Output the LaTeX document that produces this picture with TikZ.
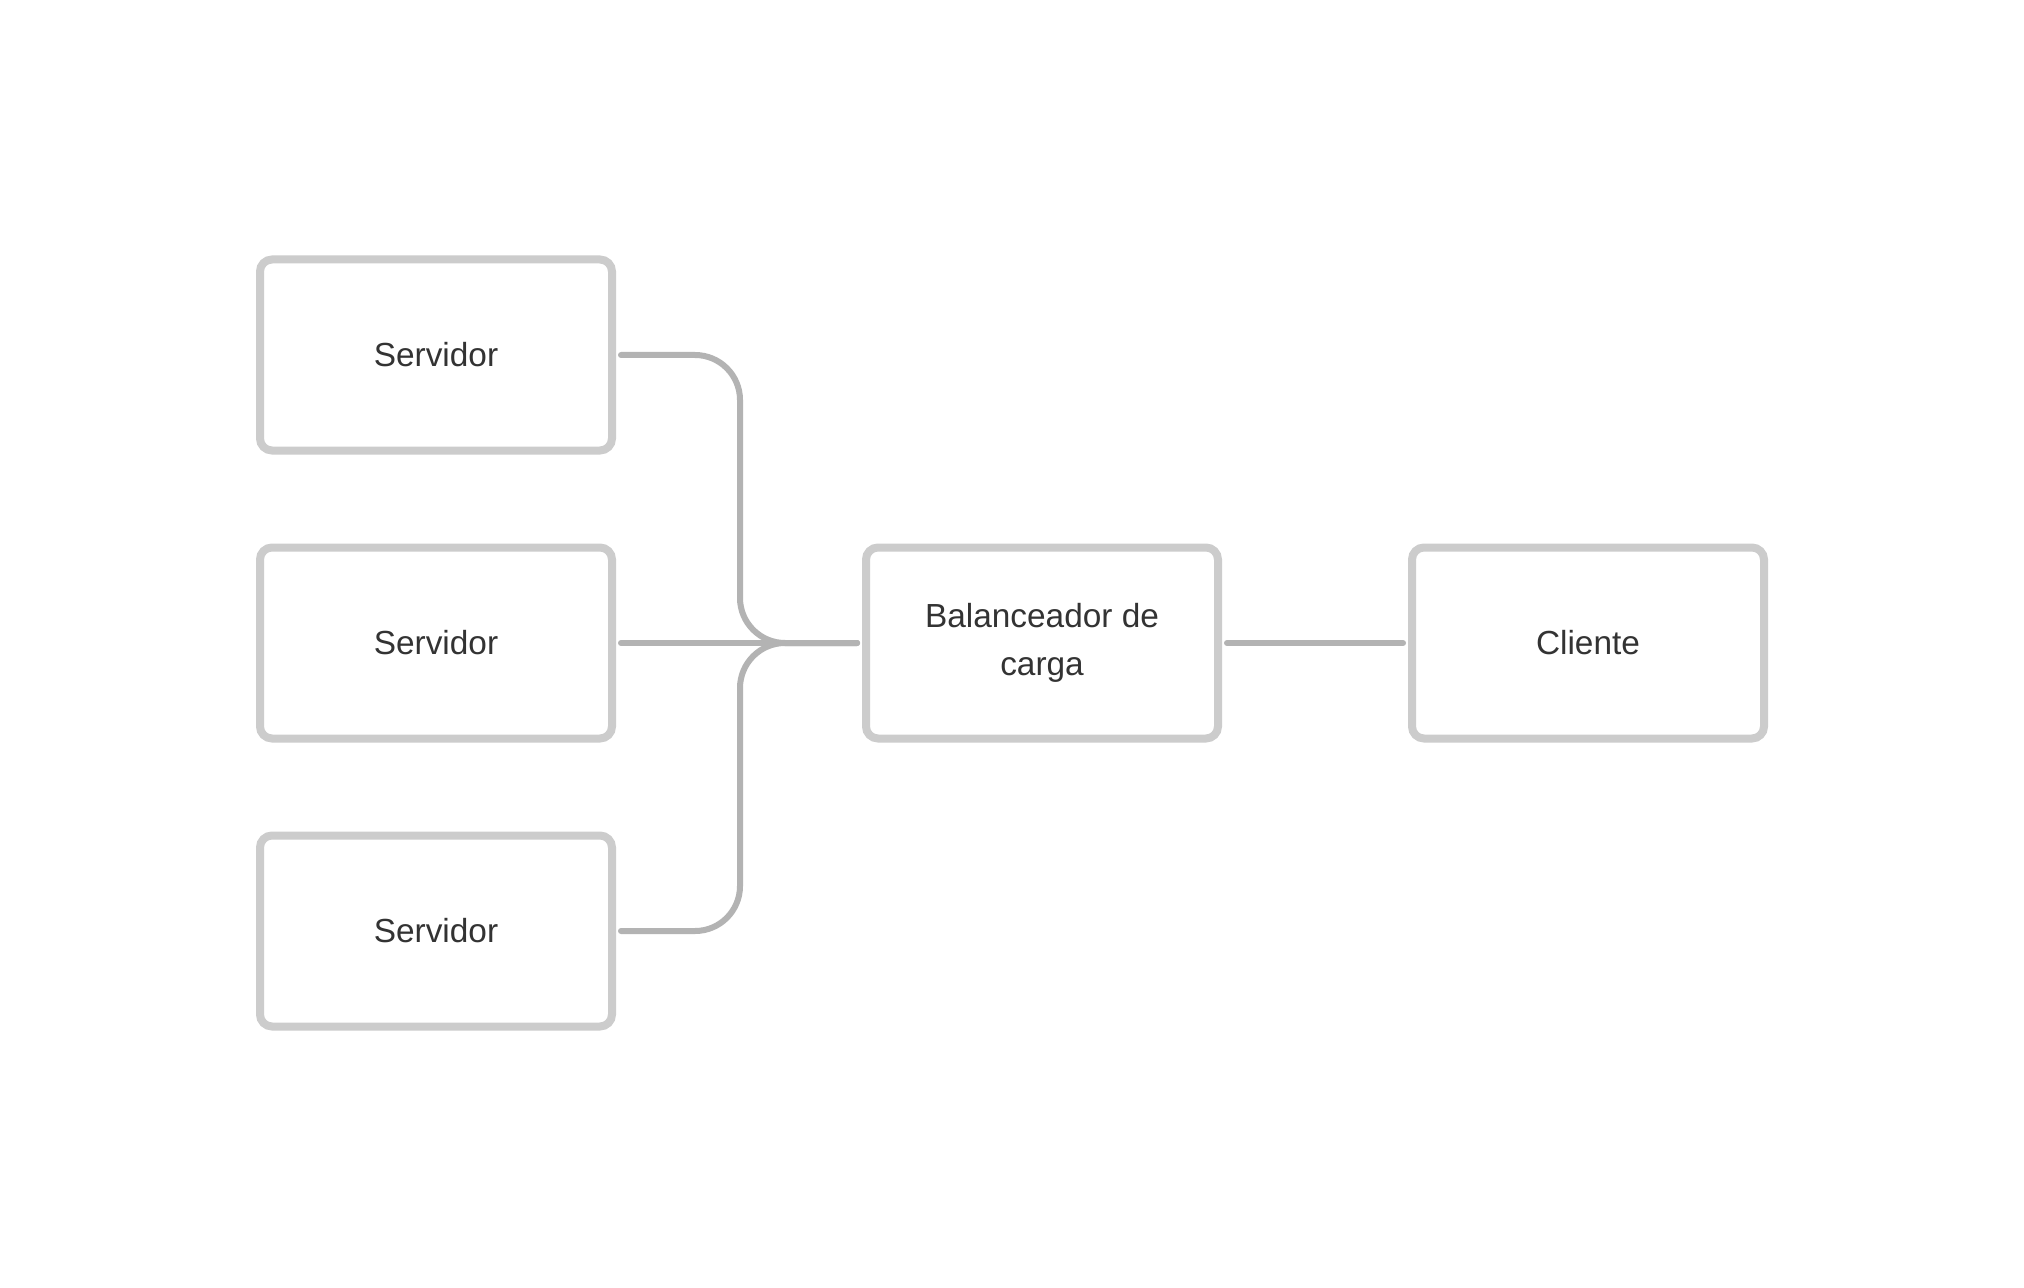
\documentclass[tikz,border=0pt]{standalone}
\usepackage{fontspec}
\setmainfont{Liberation Sans}
\usetikzlibrary{positioning}
\definecolor{boxgray}{HTML}{CCCCCC}
\definecolor{linegray}{HTML}{B3B3B3}
\definecolor{textgray}{HTML}{333333}

\begin{document}
\begin{tikzpicture}[
    node distance=2.88cm,
    box/.style={rectangle, draw=boxgray, fill=white, line width=0.8mm, rounded corners=1.2mm, minimum width=3.52cm, minimum height=1.91cm, align=center, text=textgray, font=\fontsize{9.5}{13.6}\selectfont},
    link/.style={draw=linegray, line width=0.6mm, line cap=round, rounded corners=4.5mm, shorten <=0.5mm, shorten >=0.5mm}
]
    \fill[white] (0,0) rectangle (20.24,-12.88);
    \useasboundingbox (0,0) rectangle (20.24,-12.88);

    \node[box] (server1) at (4.36,-3.55) {Servidor};
    \node[box, below of=server1] (server2) {Servidor};
    \node[box, below of=server2] (server3) {Servidor};
    \node[box, right of=server2, node distance=6.06cm] (balancer) {Balanceador de\\carga};
    \node[box, right of=balancer, node distance=5.46cm] (client) {Cliente};

    \coordinate (merge) at (7.40,-6.43);

    \draw[link] (server1.east) -| (merge) -- (balancer.west);
    \draw[link] (server3.east) -| (merge) -- (balancer.west);
    \draw[link] (server2) -- (balancer);
    \draw[link] (balancer) -- (client);
\end{tikzpicture}
\end{document}
